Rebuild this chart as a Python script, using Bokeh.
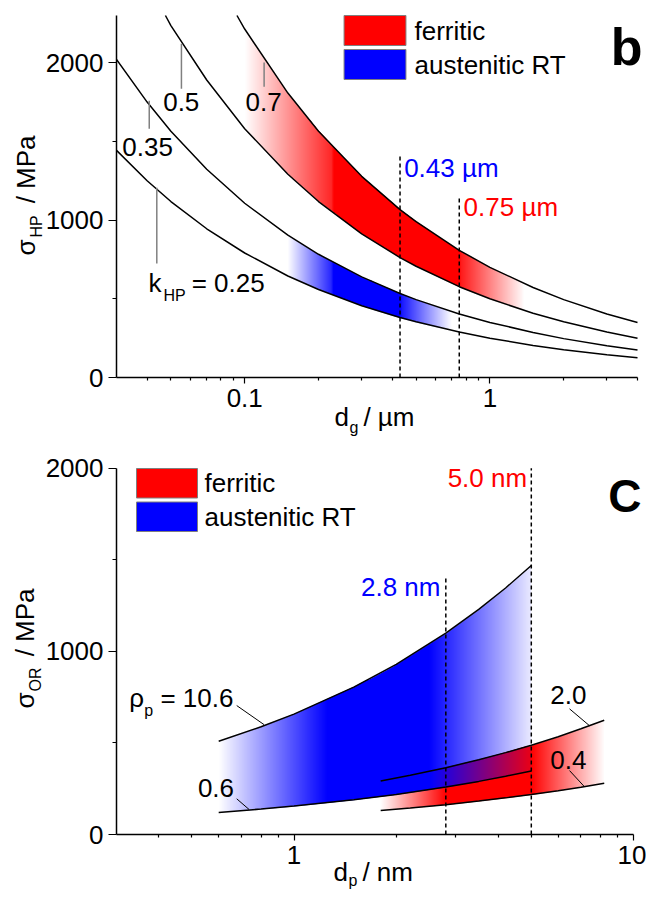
import numpy as np
from bokeh.plotting import figure
from bokeh.models import Range1d, FixedTicker, CustomJSTickFormatter, Label, Title
from bokeh.layouts import column
from bokeh.embed import file_html
from bokeh.resources import INLINE
from bokeh.core.properties import value

FONT = "Liberation Sans"
NB = "\u00a0"

# ---------------- panel b : Hall-Petch ----------------
d_g = [0.03, 0.04, 0.05, 0.07, 0.1, 0.15, 0.2, 0.3, 0.43, 0.5, 0.75, 1.0, 1.5, 2.0, 3.0, 4.0]
sigma_k025 = [1443, 1250, 1118, 945, 791, 645, 559, 456, 381, 354, 289, 250, 204, 177, 144, 125]
sigma_k035 = [2021, 1750, 1565, 1323, 1107, 904, 783, 639, 534, 495, 404, 350, 286, 247, 202, 175]
d_g_k050 = [0.0475, 0.05, 0.07, 0.1, 0.15, 0.2, 0.3, 0.43, 0.5, 0.75, 1.0, 1.5, 2.0, 3.0, 4.0]
sigma_k050 = [2300, 2236, 1890, 1581, 1291, 1118, 913, 762, 707, 577, 500, 408, 354, 289, 250]
d_g_k070 = [0.093, 0.1, 0.15, 0.2, 0.3, 0.43, 0.5, 0.75, 1.0, 1.5, 2.0, 3.0, 4.0]
sigma_k070 = [2300, 2214, 1807, 1565, 1278, 1067, 990, 808, 700, 572, 495, 404, 350]

# opacity of the shaded bands along d (stops)
ferr_b_d = [0.1, 0.225, 0.23, 0.75, 0.76, 1.38]
ferr_b_a = [0.0, 0.85, 1.0, 1.0, 0.9, 0.0]
aust_b_d = [0.15, 0.225, 0.23, 0.43, 0.44, 0.70]
aust_b_a = [0.0, 0.85, 1.0, 1.0, 0.9, 0.0]

d_g_marks = [0.43, 0.75]
d_g_mark_top = [1410, 1155]
d_g_mark_text = ["0.43 µm", "0.75 µm"]

# ---------------- panel c : Orowan ----------------
d_p_aus = [0.6, 0.8, 1.0, 1.5, 2.0, 2.8, 3.5, 4.2, 5.0]
sigma_aus_rho106 = [509, 588, 657, 805, 929, 1099, 1229, 1346, 1469]
sigma_aus_rho06 = [120, 139, 155, 190, 219, 259, 290, 318, 347]
d_p_fer = [1.8, 2.2, 2.8, 3.5, 4.2, 5.0, 6.0, 7.0, 8.2]
sigma_fer_rho20 = [292, 323, 365, 408, 447, 487, 534, 577, 624]
sigma_fer_rho04 = [131, 145, 163, 183, 200, 218, 239, 258, 280]

aust_c_d = [0.6, 1.25, 2.5, 5.0]
aust_c_a = [0.0, 1.0, 1.0, 0.08]
ferr_c_d = [1.8, 2.8, 5.0, 8.2]
ferr_c_a = [0.0, 1.0, 1.0, 0.0]

d_p_marks = [2.8, 5.0]
d_p_mark_top = [1405, 2000]
d_p_mark_text = ["2.8 nm", "5.0 nm"]

legend_labels = ["ferritic", "austenitic RT"]
RED = (255, 0, 0)
BLUE = (0, 0, 255)


def band_rgba(x_lo, lo, x_hi, hi, stop_x, stop_a, rgb, px_per_dec, px_per_unit, over=2):
    lxl = np.log10(np.asarray(x_lo, float))
    lxh = np.log10(np.asarray(x_hi, float))
    lo = np.asarray(lo, float)
    hi = np.asarray(hi, float)
    lx0, lx1 = np.log10(stop_x[0]), np.log10(stop_x[-1])
    fine = np.linspace(lx0, lx1, 800)
    y0 = np.interp(fine, lxl, lo).min()
    y1 = np.interp(fine, lxh, hi).max()
    nx = int((lx1 - lx0) * px_per_dec * over) + 2
    ny = int((y1 - y0) * px_per_unit * over) + 2
    lxc = lx0 + (np.arange(nx) + 0.5) / nx * (lx1 - lx0)
    yc = y0 + (np.arange(ny) + 0.5) / ny * (y1 - y0)
    lo_c = np.interp(lxc, lxl, lo)[None, :]
    hi_c = np.interp(lxc, lxh, hi)[None, :]
    dy = (y1 - y0) / ny
    Y = yc[:, None]
    cov = np.clip((hi_c - Y) / dy + 0.5, 0, 1) * np.clip((Y - lo_c) / dy + 0.5, 0, 1)
    a = np.interp(lxc, np.log10(stop_x), stop_a)[None, :]
    alpha = np.clip(a * cov, 0, 1)
    img = np.zeros((ny, nx), dtype=np.uint32)
    v = img.view(dtype=np.uint8).reshape((ny, nx, 4))
    v[..., 0] = rgb[0]
    v[..., 1] = rgb[1]
    v[..., 2] = rgb[2]
    v[..., 3] = np.round(alpha * 255).astype(np.uint8)
    return img, stop_x[0], y0, stop_x[-1] - stop_x[0], y1 - y0


def style(p, xt, xm, yt, ym, xb, yb):
    p.xaxis.ticker = FixedTicker(ticks=xt, minor_ticks=xm)
    p.yaxis.ticker = FixedTicker(ticks=yt, minor_ticks=ym)
    p.xaxis.formatter = CustomJSTickFormatter(code="return tick.toString();")
    p.xaxis.bounds = xb
    p.yaxis.bounds = yb
    for ax in (p.xaxis[0], p.yaxis[0]):
        ax.axis_line_color = "black"
        ax.axis_line_width = 1.5
        ax.major_tick_line_color = "black"
        ax.minor_tick_line_color = "black"
        ax.major_tick_line_width = 1.2
        ax.minor_tick_line_width = 1.2
        ax.major_tick_in = 0
        ax.minor_tick_in = 0
        ax.major_label_text_font = FONT
        ax.major_label_text_font_size = "26px"
        ax.major_label_text_color = "black"
        ax.major_label_standoff = 5
    p.xaxis.major_tick_out = 6
    p.xaxis.minor_tick_out = 3
    p.yaxis.major_tick_out = 8
    p.yaxis.minor_tick_out = 4
    p.xgrid.visible = False
    p.ygrid.visible = False
    p.outline_line_color = None
    p.background_fill_color = "white"
    p.border_fill_color = "white"


def lab(p, x, y, text, size="26px", units="screen", color="black",
        align="left", baseline="alphabetic", fstyle="normal"):
    p.add_layout(Label(x=x, y=y, x_units=units, y_units=units, text=text,
                       text_font=FONT, text_font_size=size, text_color=color,
                       text_align=align, text_baseline=baseline,
                       text_font_style=fstyle))


def side_title(p, side, text, size, offset, standoff):
    p.add_layout(Title(text=text, align="left", vertical_align="bottom",
                       offset=offset, standoff=standoff, text_font=FONT,
                       text_font_size=size, text_font_style="normal",
                       text_color="black"), side)


def pieces(p, x, y, parts, color="black"):
    for t, dx, dy, sz in parts:
        p.text(x=[x], y=[y], text=[t], x_offset=dx, y_offset=dy,
               text_font=value(FONT), text_font_size=sz, text_color=color,
               text_align="left", text_baseline="middle")


W = 646

# ======================= panel b =======================
XB = (0.03, 4.0)
YB = (0.0, 2300.0)
FL1, FB1 = 115, 377          # frame left / x-axis position (px)
H1 = 442
L1, R1, T1, B1 = FL1, 1, 2, H1 - FB1
pxdec1 = (637 - FL1) / np.log10(XB[1] / XB[0])
pxu1 = (FB1 - 15) / (YB[1] - YB[0])
x_end1 = 10 ** (np.log10(XB[0]) + (W - L1 - R1) / pxdec1)
y_end1 = (H1 - T1 - B1) / pxu1

p1 = figure(width=W, height=H1, x_axis_type="log",
            x_range=Range1d(XB[0], x_end1), y_range=Range1d(YB[0], y_end1),
            min_border_left=L1, min_border_right=R1, min_border_top=T1, min_border_bottom=B1,
            output_backend="svg", toolbar_location=None)


def to_data_b(px, py):
    return 10 ** (np.log10(XB[0]) + (px - FL1) / pxdec1), (FB1 - py) / pxu1


style(p1, [0.1, 1], [0.04, 0.05, 0.06, 0.07, 0.08, 0.09, 0.2, 0.3, 0.4, 0.5, 0.6, 0.7, 0.8, 0.9, 2, 3, 4],
      [0, 1000, 2000], [500, 1500], XB, YB)

img, x0, y0, dw, dh = band_rgba(d_g_k050, sigma_k050, d_g_k070, sigma_k070, ferr_b_d, ferr_b_a, RED, pxdec1, pxu1)
p1.image_rgba(image=[img], x=x0, y=y0, dw=dw, dh=dh)
img, x0, y0, dw, dh = band_rgba(d_g, sigma_k025, d_g, sigma_k035, aust_b_d, aust_b_a, BLUE, pxdec1, pxu1)
p1.image_rgba(image=[img], x=x0, y=y0, dw=dw, dh=dh)

for xs, s in ((d_g, sigma_k025), (d_g, sigma_k035), (d_g_k050, sigma_k050), (d_g_k070, sigma_k070)):
    p1.line(xs, s, line_color="black", line_width=1.5)

p1.segment(x0=d_g_marks, y0=[0, 0], x1=d_g_marks, y1=d_g_mark_top,
           line_color="black", line_width=1.5, line_dash="4 3")
lab(p1, 0.447, 1333, d_g_mark_text[0], units="data", color="#0000ff", baseline="middle")
lab(p1, 0.781, 1081, d_g_mark_text[1], units="data", color="#ff0000", baseline="middle")

# curve labels with leaders
p1.segment(x0=[0.0552, 0.12, 0.0408, 0.0438], y0=[2121, 2002, 1759, 1206],
           x1=[0.0552, 0.12, 0.0408, 0.0438], y1=[1835, 1848, 1581, 724],
           line_color="#808080", line_width=1.5)
pieces(p1, 0.0465, 1753, [("0.5", 0, 0, "26px")])
pieces(p1, 0.1007, 1753, [("0.7", 0, 0, "26px")])
pieces(p1, 0.0317, 1462, [("0.35", 0, 0, "26px")])
pieces(p1, 0.0405, 599, [("k", 0, 0, "26px"), ("HP", 15, 12, "16px"), (NB + "= 0.25", 36, 0, "26px")])

# legend
for i, (lbl, col) in enumerate(zip(legend_labels, ["#ff0000", "#0000ff"])):
    top_px = 15 + 34 * i
    xl, yt = to_data_b(343, top_px)
    xr, yb = to_data_b(405, top_px + 30)
    p1.quad(left=[xl], right=[xr], top=[yt], bottom=[yb], fill_color=col,
            line_color="#7f7f7f", line_width=1)
    lab(p1, 413 - FL1, FB1 - (top_px + 15), lbl, baseline="middle")

# axis titles (in the side panels)
side_title(p1, "left", "HP", "16px", FB1 - 237, -4)
side_title(p1, "left", "σ" + NB * 5 + "/ MPa", "26px", FB1 - 255, -26)
side_title(p1, "below", "d" + NB * 2 + "/ µm", "26px", 333 - FL1, -19)
side_title(p1, "below", "g", "16px", 348 - FL1, -11)
lab(p1, 641 - FL1, FB1 - 46, "b", size="52px", align="right", fstyle="bold")

# ======================= panel c =======================
XC = (0.3, 10.0)
YC = (0.0, 2000.0)
H2 = 899 - H1
FL2, FB2 = 116, 834 - H1     # within panel-c canvas
L2, R2, T2, B2 = FL2, 1, 3, H2 - FB2
pxdec2 = (633 - FL2) / np.log10(XC[1] / XC[0])
pxu2 = (834 - 467.7) / (YC[1] - YC[0])
x_end2 = 10 ** (np.log10(XC[0]) + (W - L2 - R2) / pxdec2)
y_end2 = (H2 - T2 - B2) / pxu2

p2 = figure(width=W, height=H2, x_axis_type="log",
            x_range=Range1d(XC[0], x_end2), y_range=Range1d(YC[0], y_end2),
            min_border_left=L2, min_border_right=R2, min_border_top=T2, min_border_bottom=B2,
            output_backend="svg", toolbar_location=None)


def to_data_c(px, py):
    return 10 ** (np.log10(XC[0]) + (px - FL2) / pxdec2), (834 - py) / pxu2


style(p2, [1, 10], [0.4, 0.5, 0.6, 0.7, 0.8, 0.9, 2, 3, 4, 5, 6, 7, 8, 9],
      [0, 1000, 2000], [500, 1500], XC, YC)

img, x0, y0, dw, dh = band_rgba(d_p_fer, sigma_fer_rho04, d_p_fer, sigma_fer_rho20, ferr_c_d, ferr_c_a, RED, pxdec2, pxu2)
p2.image_rgba(image=[img], x=x0, y=y0, dw=dw, dh=dh)
img, x0, y0, dw, dh = band_rgba(d_p_aus, sigma_aus_rho06, d_p_aus, sigma_aus_rho106, aust_c_d, aust_c_a, BLUE, pxdec2, pxu2)
p2.image_rgba(image=[img], x=x0, y=y0, dw=dw, dh=dh)

for s in (sigma_aus_rho106, sigma_aus_rho06):
    p2.line(d_p_aus, s, line_color="black", line_width=1.5)
for s in (sigma_fer_rho20, sigma_fer_rho04):
    p2.line(d_p_fer, s, line_color="black", line_width=1.5)

p2.segment(x0=d_p_marks, y0=[0, 0], x1=d_p_marks, y1=d_p_mark_top,
           line_color="black", line_width=1.5, line_dash="4 3")
lab(p2, 2.70, 1350, d_p_mark_text[0], units="data", color="#0000ff", align="right", baseline="middle")
lab(p2, 4.86, 1946, d_p_mark_text[1], units="data", color="#ff0000", align="right", baseline="middle")

p2.segment(x0=[0.678, 0.678, 6.48, 6.48], y0=[704, 195, 686, 349],
           x1=[0.816, 0.737, 7.42, 7.16], y1=[600, 137, 594, 262],
           line_color="black", line_width=1)
pieces(p2, 0.327, 745, [("ρ", 0, 0, "26px"), ("p", 15, 12, "16px"), (NB + "= 10.6", 24, 0, "26px")])
pieces(p2, 0.521, 254, [("0.6", 0, 0, "26px")])
pieces(p2, 5.69, 759, [("2.0", 0, 0, "26px")])
pieces(p2, 5.69, 409, [("0.4", 0, 0, "26px")])

for i, (lbl, col) in enumerate(zip(legend_labels, ["#ff0000", "#0000ff"])):
    top_px = 468 + 33.5 * i
    xl, yt = to_data_c(136, top_px)
    xr, yb = to_data_c(197, top_px + 29.5)
    p2.quad(left=[xl], right=[xr], top=[yt], bottom=[yb], fill_color=col,
            line_color="#7f7f7f", line_width=1)
    lab(p2, 204 - FL2, 834 - (top_px + 14.75), lbl, baseline="middle")

side_title(p2, "left", "OR", "16px", 834 - 691, -2)
side_title(p2, "left", "σ" + NB * 5 + "/ MPa", "26px", 834 - 708, -28)
side_title(p2, "below", "d" + NB * 2 + "/ nm", "26px", 333 - FL2, -23)
side_title(p2, "below", "p", "16px", 348 - FL2, -11)
lab(p2, 641 - FL2, 834 - 495, "C", size="46px", align="right", fstyle="bold")

layout = column(p1, p2, spacing=0)
open("out.html", "w").write(file_html(layout, INLINE, title="Hall-Petch and Orowan strengthening"))
